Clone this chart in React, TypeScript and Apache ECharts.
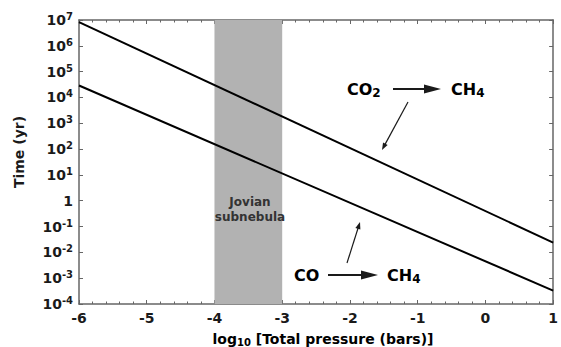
import React, { useEffect, useRef } from 'react';
import * as echarts from 'echarts';

// Data
const xMin = -6;
const xMax = 1;
const yMin = 1e-4;
const yMax = 1e7;
const co2Line: [number, number][] = [[-6, 8.3e6], [1, 0.024]];
const coLine: [number, number][] = [[-6, 2.9e4], [1, 3.3e-4]];
const subnebulaRange: [number, number] = [-4, -3];

const FONT = 'DejaVu Sans';
const INK = '#1a1a1a';
const FRAME = '#666666';

function arrowHead(tx: number, ty: number, fx: number, fy: number, len: number, half: number) {
  const dx = tx - fx;
  const dy = ty - fy;
  const l = Math.sqrt(dx * dx + dy * dy);
  const ux = dx / l;
  const uy = dy / l;
  const bx = tx - ux * len;
  const by = ty - uy * len;
  const px = -uy;
  const py = ux;
  return [
    [tx, ty],
    [bx + px * half, by + py * half],
    [bx - px * half, by - py * half],
  ];
}

function thinArrow(fx: number, fy: number, tx: number, ty: number) {
  const pts = arrowHead(tx, ty, fx, fy, 7, 2.6);
  const shaftEnd = [tx - (tx - fx) * 0.08, ty - (ty - fy) * 0.08];
  return [
    { type: 'line', shape: { x1: fx, y1: fy, x2: shaftEnd[0], y2: shaftEnd[1] }, style: { stroke: INK, lineWidth: 1.2 }, z: 100 },
    { type: 'polygon', shape: { points: pts }, style: { fill: INK }, z: 100 },
  ];
}

function boldArrow(x1: number, x2: number, y: number) {
  return [
    { type: 'line', shape: { x1, y1: y, x2: x2 - 14, y2: y }, style: { stroke: INK, lineWidth: 2 }, z: 100 },
    { type: 'polygon', shape: { points: [[x2 - 17, y - 4.5], [x2, y], [x2 - 17, y + 4.5]] }, style: { fill: INK }, z: 100 },
  ];
}

const chemRich = {
  m: { fontSize: 16, fontWeight: 'bold', fontFamily: FONT, color: INK, lineHeight: 20 },
  u: { fontSize: 12, fontWeight: 'bold', fontFamily: FONT, color: INK, lineHeight: 14, verticalAlign: 'bottom' },
};

export default function App() {
  const ref = useRef<HTMLDivElement>(null);
  useEffect(() => {
    if (!ref.current) return;
    const chart = echarts.init(ref.current, undefined, { renderer: 'svg' });
    const yLabelRich = {
      b: { fontSize: 14, fontWeight: 'bold', fontFamily: FONT, color: INK, lineHeight: 17 },
      s: { fontSize: 10, fontWeight: 'bold', fontFamily: FONT, color: INK, lineHeight: 12, verticalAlign: 'top' },
    };
    const yFormatter = (v: number) => {
      const e = Math.round(Math.log10(v));
      return e === 0 ? '{b|1}' : `{b|10}{s|${e}}`;
    };
    const xAxisCommon = {
      type: 'value',
      min: xMin,
      max: xMax,
      interval: 1,
      axisLine: { show: true, onZero: false, lineStyle: { color: FRAME, width: 1.5 } },
      axisTick: { show: true, inside: true, length: 4, lineStyle: { color: FRAME } },
      minorTick: { show: true, splitNumber: 5, length: 2.5, lineStyle: { color: FRAME } },
      splitLine: { show: false },
      minorSplitLine: { show: false },
    };
    const yAxisCommon = {
      type: 'log',
      logBase: 10,
      min: yMin,
      max: yMax,
      interval: 1,
      axisLine: { show: true, onZero: false, lineStyle: { color: FRAME, width: 1.5 } },
      axisTick: { show: true, inside: true, length: 4, lineStyle: { color: FRAME } },
      splitLine: { show: false },
      minorTick: { show: false },
    };
    chart.setOption({
      animation: false,
      backgroundColor: '#ffffff',
      grid: { left: 79, right: 5, top: 20, bottom: 43, containLabel: false },
      xAxis: [
        {
          ...xAxisCommon,
          position: 'bottom',
          axisLabel: { show: true, margin: 7, fontSize: 14, fontWeight: 'bold', fontFamily: FONT, color: INK },
        },
        { ...xAxisCommon, position: 'top', axisLabel: { show: false } },
      ],
      yAxis: [
        {
          ...yAxisCommon,
          position: 'left',
          axisLabel: { show: true, margin: 6, formatter: yFormatter, rich: yLabelRich },
        },
        { ...yAxisCommon, position: 'right', axisLabel: { show: false } },
      ],
      series: [
        {
          type: 'line',
          data: co2Line,
          xAxisIndex: 0,
          yAxisIndex: 0,
          symbol: 'none',
          lineStyle: { color: '#000', width: 2 },
          z: 5,
          markArea: {
            silent: true,
            itemStyle: { color: '#b2b2b2' },
            data: [[{ xAxis: subnebulaRange[0] }, { xAxis: subnebulaRange[1] }]],
          },
        },
        {
          type: 'line',
          data: coLine,
          xAxisIndex: 0,
          yAxisIndex: 0,
          symbol: 'none',
          lineStyle: { color: '#000', width: 2 },
          z: 5,
        },
      ],
      graphic: [
        {
          type: 'text',
          x: 19,
          y: 152,
          rotation: Math.PI / 2,
          style: { text: 'Time (yr)', fontSize: 14, fontWeight: 'bold', fontFamily: FONT, fill: INK, align: 'center', verticalAlign: 'middle' },
        },
        {
          type: 'text',
          x: 323,
          y: 339,
          style: {
            text: '{a|log}{b|10}{a| [Total pressure (bars)]}',
            align: 'center',
            verticalAlign: 'middle',
            rich: {
              a: { fontSize: 14, fontWeight: 'bold', fontFamily: FONT, color: INK, lineHeight: 17 },
              b: { fontSize: 10, fontWeight: 'bold', fontFamily: FONT, color: INK, lineHeight: 11, verticalAlign: 'bottom' },
            },
          },
        },
        {
          type: 'text',
          x: 250,
          y: 209,
          z: 50,
          style: { text: 'Jovian\nsubnebula', fontSize: 12, fontWeight: 'bold', fontFamily: FONT, fill: '#333333', align: 'center', verticalAlign: 'middle', lineHeight: 15 },
        },
        {
          type: 'text', x: 347, y: 89, z: 100,
          style: { text: '{m|CO}{u|2}', align: 'left', verticalAlign: 'middle', rich: chemRich },
        },
        {
          type: 'text', x: 451, y: 89, z: 100,
          style: { text: '{m|CH}{u|4}', align: 'left', verticalAlign: 'middle', rich: chemRich },
        },
        ...boldArrow(393, 441, 89),
        {
          type: 'text', x: 294, y: 275, z: 100,
          style: { text: '{m|CO}', align: 'left', verticalAlign: 'middle', rich: chemRich },
        },
        {
          type: 'text', x: 387, y: 275, z: 100,
          style: { text: '{m|CH}{u|4}', align: 'left', verticalAlign: 'middle', rich: chemRich },
        },
        ...boldArrow(328, 378, 275),
        ...thinArrow(408, 102, 382, 150),
        ...thinArrow(347, 263, 360, 222),
      ],
    });
    return () => chart.dispose();
  }, []);
  return <div ref={ref} style={{ position: 'fixed', left: 0, top: 0, width: 561, height: 347 }} />;
}
